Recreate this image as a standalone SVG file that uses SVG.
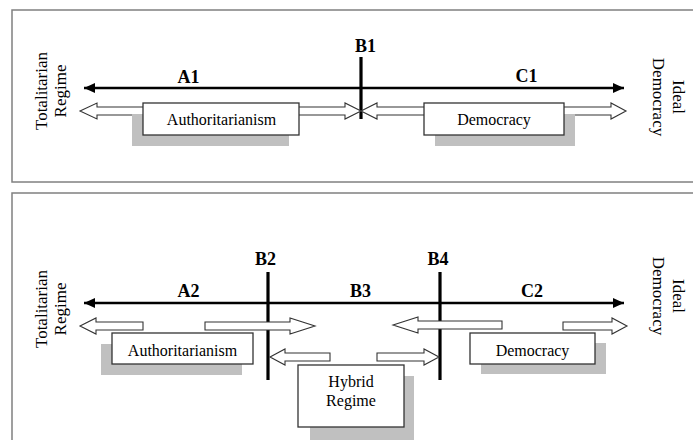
<svg xmlns="http://www.w3.org/2000/svg" width="693" height="440" viewBox="0 0 693 440">
<style>
.panel{fill:#ffffff;stroke:#808080;stroke-width:1.5}
.axis{stroke:#000;stroke-width:2.5;fill:none}
.tick{stroke:#000;stroke-width:3.2}
.hollow{fill:#fff;stroke:#333;stroke-width:1.1;stroke-linejoin:miter}
.box{fill:#fff;stroke:#333;stroke-width:1.3}
.shadow{fill:#c0c0c0}
.lbl{font-family:"Liberation Serif","Times New Roman",serif;font-size:18px;font-weight:bold;text-anchor:middle;fill:#000}
.end{font-family:"Liberation Serif","Times New Roman",serif;font-size:17px;text-anchor:middle;fill:#000}
.bt{font-family:"Liberation Serif","Times New Roman",serif;font-size:16px;text-anchor:middle;fill:#000}
</style>
<defs>
<marker id="ah" markerUnits="userSpaceOnUse" markerWidth="12" markerHeight="10" refX="11" refY="5" orient="auto-start-reverse">
<path d="M0,0 L11,5 L0,10 z" fill="#000"/>
</marker>
</defs>
<rect class="panel" x="12" y="10" width="700" height="172"/>
<rect class="panel" x="12" y="193" width="700" height="260"/>

<g id="connectors">
<line class="axis" x1="84" y1="88" x2="624" y2="88" marker-start="url(#ah)" marker-end="url(#ah)"/>
<line class="axis" x1="84" y1="303" x2="624" y2="303" marker-start="url(#ah)" marker-end="url(#ah)"/>
<line class="tick" x1="361" y1="57" x2="361" y2="119"/>
<line class="tick" x1="268" y1="272" x2="268" y2="380"/>
<line class="tick" x1="440" y1="272" x2="440" y2="380"/>
<!-- top hollow double arrows -->
<path class="hollow" d="M80,111 L97,103 L97,107 L345,107 L345,103 L361,111 L345,119 L345,115 L97,115 L97,119 Z"/>
<path class="hollow" d="M361,111 L377,103 L377,107 L611,107 L611,103 L626,111 L611,119 L611,115 L377,115 L377,119 Z"/>
<!-- bottom hollow arrows -->
<path class="hollow" d="M80,326 L96,318 L96,322 L143,322 L143,330 L96,330 L96,334 Z"/>
<path class="hollow" d="M205,322 L290,322 L290,318 L315,326 L290,334 L290,330 L205,330 Z"/>
<path class="hollow" d="M270,357 L285,349 L285,353 L330,353 L330,361 L285,361 L285,365 Z"/>
<path class="hollow" d="M393,325 L418,317 L418,321 L502,321 L502,329 L418,329 L418,333 Z"/>
<path class="hollow" d="M377,353 L424,353 L424,349 L439,357 L424,365 L424,361 L377,361 Z"/>
<path class="hollow" d="M563,322 L612,322 L612,318 L627,326 L612,334 L612,330 L563,330 Z"/>
</g>

<g id="top-labels">
<text class="lbl" x="188.5" y="83">A1</text>
<text class="lbl" x="365.5" y="52">B1</text>
<text class="lbl" x="526.5" y="82">C1</text>
</g>
<g id="top-totalitarian">
<text class="end" transform="translate(47,91) rotate(-90)">Totalitarian</text>
<text class="end" transform="translate(66,91) rotate(-90)">Regime</text>
</g>
<g id="top-ideal">
<text class="end" transform="translate(673,97) rotate(90)">Ideal</text>
<text class="end" transform="translate(653,97) rotate(90)">Democracy</text>
</g>
<g id="top-authoritarianism">
<rect class="shadow" x="132" y="114" width="157" height="32"/>
<rect class="box" x="143" y="103" width="156" height="32"/>
<text class="bt" x="221.5" y="125">Authoritarianism</text>
</g>
<g id="top-democracy">
<rect class="shadow" x="435" y="114" width="140" height="32"/>
<rect class="box" x="424" y="103" width="140" height="32"/>
<text class="bt" x="494" y="125">Democracy</text>
</g>

<g id="bottom-labels">
<text class="lbl" x="188.5" y="297">A2</text>
<text class="lbl" x="265.5" y="265">B2</text>
<text class="lbl" x="360.5" y="297">B3</text>
<text class="lbl" x="438" y="265">B4</text>
<text class="lbl" x="532" y="297">C2</text>
</g>
<g id="bottom-totalitarian">
<text class="end" transform="translate(47,309) rotate(-90)">Totalitarian</text>
<text class="end" transform="translate(66,309) rotate(-90)">Regime</text>
</g>
<g id="bottom-ideal">
<text class="end" transform="translate(673,296) rotate(90)">Ideal</text>
<text class="end" transform="translate(653,296) rotate(90)">Democracy</text>
</g>
<g id="bottom-authoritarianism">
<rect class="shadow" x="101" y="344" width="141" height="31"/>
<rect class="box" x="112" y="333" width="141" height="31"/>
<text class="bt" x="182.5" y="356">Authoritarianism</text>
</g>
<g id="bottom-hybrid">
<rect class="shadow" x="310" y="376" width="104" height="70"/>
<rect class="box" x="298" y="365" width="106" height="62"/>
<text class="bt" x="351" y="387">Hybrid</text>
<text class="bt" x="351" y="406">Regime</text>
</g>
<g id="bottom-democracy">
<rect class="shadow" x="481" y="343" width="125" height="31"/>
<rect class="box" x="470" y="333" width="125" height="31"/>
<text class="bt" x="532.5" y="356">Democracy</text>
</g>
</svg>
